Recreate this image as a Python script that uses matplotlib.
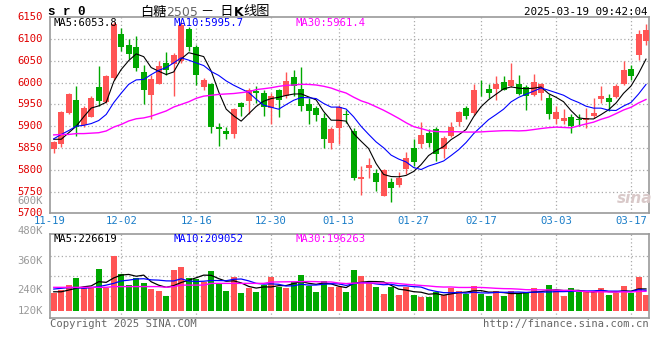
import matplotlib
matplotlib.use("Agg")
import matplotlib.pyplot as plt
import numpy as np
import pandas as pd

# daily bars, 2024-11-19 .. 2025-03-19
opens = [5847, 5860, 5930, 5961, 5902, 5922, 5989, 5955, 6011, 6111,
         6087, 6082, 6025, 5971, 5998, 6045, 6043, 6049, 6124, 6081,
         5990, 5996, 5897, 5890, 5883, 5954, 5958, 5980, 5977, 5942,
         5984, 5969, 6013, 5986, 5952, 5941, 5919, 5861, 5895, 5929,
         5889, 5779, 5804, 5792, 5740, 5771, 5765, 5801, 5851, 5858,
         5884, 5893, 5847, 5877, 5910, 5941, 5931, 5990, 5986, 5986,
         6002, 5993, 5998, 5990, 5971, 5977, 5964, 5916, 5913, 5922,
         5917, 5915, 5923, 5963, 5965, 5967, 5997, 6032, 6063, 6095]
closes = [5864, 5932, 5973, 5897, 5942, 5964, 5957, 6015, 6134, 6081,
          6066, 6034, 5983, 6009, 6039, 6028, 6064, 6132, 6081, 6017,
          6005, 5898, 5893, 5883, 5940, 5944, 5982, 5977, 5944, 5970,
          5959, 6003, 5993, 5946, 5935, 5925, 5870, 5893, 5945, 5925,
          5781, 5783, 5810, 5772, 5800, 5757, 5780, 5826, 5817, 5879,
          5861, 5837, 5872, 5897, 5933, 5923, 5982, 5989, 5977, 5996,
          5984, 6005, 5975, 5970, 6002, 5998, 5929, 5933, 5919, 5900,
          5914, 5919, 5931, 5969, 5955, 5992, 6030, 6015, 6112, 6121]
highs = [5867, 5936, 5976, 5992, 5946, 5969, 6039, 6018, 6140, 6125,
         6101, 6108, 6041, 6018, 6049, 6070, 6068, 6140, 6128, 6086,
         6011, 5999, 5908, 5897, 5942, 5955, 5988, 5993, 5982, 5977,
         5986, 6025, 6030, 6037, 5965, 5946, 5931, 5897, 5948, 5938,
         5895, 5809, 5826, 5801, 5802, 5781, 5794, 5841, 5870, 5909,
         5894, 5898, 5878, 5910, 5936, 5946, 5996, 6005, 5996, 6015,
         6016, 6044, 6018, 5994, 6020, 6000, 5973, 5946, 5940, 5927,
         5927, 5941, 5965, 5993, 5974, 5997, 6050, 6041, 6121, 6135]
lows = [5839, 5852, 5928, 5877, 5897, 5920, 5946, 5953, 6007, 6072,
        6055, 6026, 5951, 5916, 5996, 6018, 5969, 6046, 6073, 5994,
        5982, 5885, 5855, 5870, 5872, 5923, 5927, 5954, 5923, 5906,
        5921, 5965, 5969, 5935, 5904, 5912, 5851, 5847, 5858, 5908,
        5777, 5743, 5781, 5752, 5740, 5725, 5761, 5791, 5809, 5851,
        5852, 5820, 5828, 5875, 5900, 5916, 5925, 5969, 5965, 5959,
        5982, 5991, 5971, 5938, 5969, 5959, 5916, 5904, 5904, 5885,
        5900, 5896, 5919, 5954, 5935, 5965, 5994, 6005, 6053, 6087]
volumes_k = [230, 241, 261, 291, 248, 248, 326, 248, 380, 306,
             261, 289, 271, 245, 237, 218, 323, 335, 291, 286,
             272, 319, 268, 238, 295, 230, 248, 234, 261, 295,
             255, 251, 275, 302, 259, 234, 279, 255, 255, 232,
             322, 298, 271, 253, 225, 253, 221, 252, 221, 214,
             213, 232, 221, 248, 237, 226, 257, 226, 217, 237,
             217, 237, 228, 232, 248, 228, 261, 241, 217, 248,
             232, 237, 234, 248, 221, 228, 257, 228, 294, 221]

# moving average values before the window fills
ma5_seed = [5870, 5870, 5885, 5900]
ma10_seed = [5871, 5881, 5890, 5900, 5902, 5906, 5913, 5927, 5954]
ma30_seed = [5880, 5881, 5881, 5883, 5883, 5884, 5885, 5889, 5898, 5904,
             5912, 5917, 5919, 5923, 5929, 5935, 5944, 5950, 5956, 5964,
             5969, 5971, 5973, 5974, 5975, 5977, 5979, 5984, 5986]
vma5_seed = [234, 234, 241, 248]
vma10_seed = [245, 248, 251, 251, 248, 251, 255, 261, 268]
vma30_seed = [252, 252, 252, 252, 252, 252, 252, 252, 255, 255,
              255, 255, 255, 255, 255, 252, 255, 261, 261, 261,
              261, 268, 268, 268, 268, 268, 268, 268, 268]

tick_idx = [0, 9, 19, 29, 38, 48, 57, 67, 77]
tick_labels = ["11-19", "12-02", "12-16", "12-30", "01-13", "01-27", "02-17", "03-03", "03-17"]
price_ticks = [5700, 5750, 5800, 5850, 5900, 5950, 6000, 6050, 6100, 6150]
vol_ticks_k = [600, 480, 360, 240]

RED = "#ff5555"
GREEN = "#00a800"
GRID = "#aaaaaa"
FRAME = "#999999"
MONO = "DejaVu Sans Mono"
W, H = 660, 360


def moving_avg(values, n, seed):
    s = pd.Series(values, dtype=float).rolling(n).mean()
    s.iloc[:n - 1] = seed
    return s.values


def px(x, y):
    return x / W, 1 - y / H


x = np.arange(len(closes))
o = np.array(opens, float)
c = np.array(closes, float)
vol = np.array(volumes_k, float) * 1000
up = c >= o
colors = np.where(up, RED, GREEN)

fig = plt.figure(figsize=(6.6, 3.6), dpi=100)
ax = fig.add_axes([50 / W, (H - 213.3) / H, 599 / W, 196 / H])
axv = fig.add_axes([50 / W, (H - 318) / H, 599 / W, 83.7 / H])

for a in (ax, axv):
    a.set_xlim(-0.5, 79.4)
    a.set_xticks([])
    a.set_yticks([])
    for sp in a.spines.values():
        sp.set_color(FRAME)
        sp.set_linewidth(1.2)
    for t in tick_idx[1:]:
        a.axvline(t, color=GRID, lw=0.9, ls=(0, (1, 2)), zorder=0)

# price panel
ax.set_ylim(5700, 6150)
for p in price_ticks[1:-1]:
    ax.axhline(p, color=GRID, lw=0.9, ls=(0, (1, 2)), zorder=0)
ax.vlines(x, lows, highs, colors=colors, lw=1, zorder=2)
body = np.maximum(np.abs(c - o), 2)
ax.bar(x, body, bottom=np.minimum(o, c), width=0.8, color=colors, zorder=3)
ax.plot(x, moving_avg(closes, 5, ma5_seed), color="black", lw=0.8, zorder=4)
ax.plot(x, moving_avg(closes, 10, ma10_seed), color="#0000ff", lw=0.8, zorder=4)
ax.plot(x, moving_avg(closes, 30, ma30_seed), color="#ff00ff", lw=1.0, zorder=4)

for p in price_ticks:
    ax.text(-0.012, p, str(p), transform=ax.get_yaxis_transform(), ha="right",
            va="center", color="#e00000", fontsize=7.6, family=MONO, clip_on=False)
for t, lab in zip(tick_idx, tick_labels):
    xt = -0.5 if t == 0 else t
    ax.text(xt, -0.04, lab, transform=ax.get_xaxis_transform(), ha="center",
            va="center", color="#1a7dc8", fontsize=7.6, family=MONO, clip_on=False)

ax.text(*px(54, 23), "MA5:6053.8", transform=fig.transFigure, fontsize=7.6,
        family=MONO, color="black", va="center")
ax.text(*px(174, 23), "MA10:5995.7", transform=fig.transFigure, fontsize=7.6,
        family=MONO, color="#0000ff", va="center")
ax.text(*px(295, 23), "MA30:5961.4", transform=fig.transFigure, fontsize=7.6,
        family=MONO, color="#ff00ff", va="center")
ax.text(*px(635, 198), "sina", transform=fig.transFigure, fontsize=11,
        weight="bold", style="italic", color="#d9c9c9", ha="center", va="center")

# volume panel
VOL_BASE = 157.4e3
axv.set_ylim(127.9e3, 466.6e3)
for f in (0.744, 0.505, 0.266):
    axv.plot([0, 1], [f, f], transform=axv.transAxes, color=GRID, lw=0.9,
             ls=(0, (1, 2)), zorder=0)
axv.bar(x, vol - VOL_BASE, bottom=VOL_BASE, width=0.8, color=colors, zorder=2)
axv.plot(x, moving_avg(vol, 5, np.array(vma5_seed) * 1000), color="black", lw=0.9, zorder=3)
axv.plot(x, moving_avg(vol, 10, np.array(vma10_seed) * 1000), color="#0000ff", lw=0.9, zorder=3)
axv.plot(x, moving_avg(vol, 30, np.array(vma30_seed) * 1000), color="#ff00ff", lw=1.0, zorder=3)

for v in vol_ticks_k:
    axv.text(-0.012, v * 1000, f"{v}K", transform=axv.get_yaxis_transform(), ha="right",
             va="center", color="#999999", fontsize=7.6, family=MONO, clip_on=False)
axv.text(-0.012, VOL_BASE, "120K", transform=axv.get_yaxis_transform(), ha="right",
         va="center", color="#999999", fontsize=7.6, family=MONO, clip_on=False)

axv.text(*px(54, 238.5), "MA5:226619", transform=fig.transFigure, fontsize=7.6,
         family=MONO, color="black", va="center")
axv.text(*px(174, 238.5), "MA10:209052", transform=fig.transFigure, fontsize=7.6,
         family=MONO, color="#0000ff", va="center")
axv.text(*px(295, 238.5), "MA30:196263", transform=fig.transFigure, fontsize=7.6,
         family=MONO, color="#ff00ff", va="center")

# header and footer
fig.text(*px(48, 12), "s r 0", fontsize=9, family="Liberation Mono", weight="bold", va="center")
t1 = fig.text(*px(140, 12), "白糖", fontsize=9.5, family=["Noto Sans CJK SC", "DejaVu Sans"], va="center")
t2 = fig.text(0, 0, "2505", fontsize=9, family=["DejaVu Sans"], color="#666666")
t3 = fig.text(0, 0, " －  日", fontsize=9.5, family=["Noto Sans CJK SC", "DejaVu Sans"])
t4 = fig.text(0, 0, "K", fontsize=9, family=["DejaVu Sans"], weight="bold")
t5 = fig.text(0, 0, "线图", fontsize=9.5, family=["Noto Sans CJK SC", "DejaVu Sans"])
fig.canvas.draw()
r = fig.canvas.get_renderer()
prev = t1
for t in (t2, t3, t4, t5):
    bb = prev.get_window_extent(r)
    t.set_position((bb.x1 / W, 1 - 12 / H))
    t.set_va("center")
    fig.canvas.draw()
    prev = t

fig.text(*px(648, 12), "2025-03-19 09:42:04", fontsize=7.8, family=MONO, ha="right", va="center")
fig.text(*px(50, 324), "Copyright 2025 SINA.COM", fontsize=7.6, family=MONO, color="#666666", va="center")
fig.text(*px(649, 324), "http://finance.sina.com.cn", fontsize=7.6, family=MONO, color="#666666",
         ha="right", va="center")

fig.savefig("out.png", dpi=100)
plt.close(fig)
